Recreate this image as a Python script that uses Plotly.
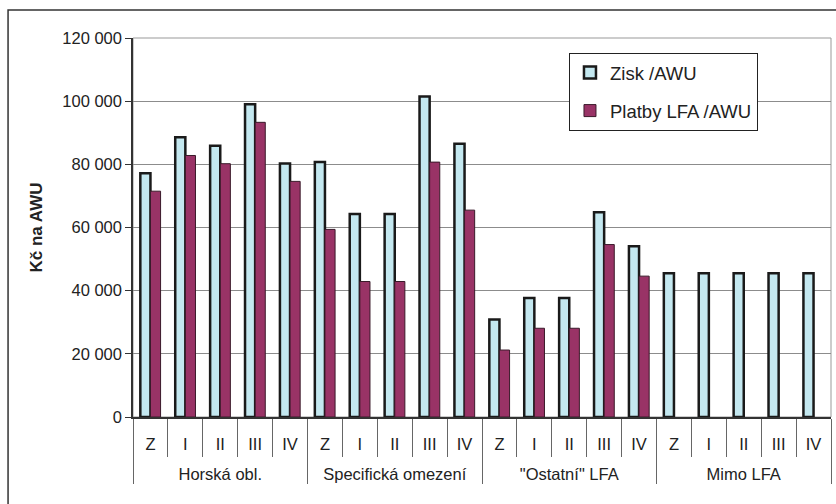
import plotly.graph_objects as go

groups = ["Horská obl.", "Specifická omezení", "\"Ostatní\" LFA", "Mimo LFA"]
subcats = ["Z", "I", "II", "III", "IV"]

zisk = [77200, 88600, 85900, 99000, 80300,
        80700, 64300, 64300, 101500, 86500,
        30900, 37700, 37700, 64800, 54100,
        45500, 45500, 45500, 45500, 45500]
platby = [71500, 82800, 80200, 93300, 74600,
          59400, 42900, 42900, 80700, 65500,
          21200, 28100, 28100, 54600, 44600,
          None, None, None, None, None]

x_outer = ["<br>" + g for g in groups for _ in subcats]
x_inner = [s for _ in groups for s in subcats]

fig = go.Figure()
fig.add_trace(go.Bar(
    x=[x_outer, x_inner], y=zisk, name="Zisk /AWU",
    marker=dict(color="#C4E8F0", line=dict(color="#1a1a1a", width=2.5)),
    legendgroup="a",
))
fig.add_trace(go.Bar(
    x=[x_outer, x_inner], y=platby, name="Platby LFA /AWU",
    marker=dict(color="#993366", line=dict(color="#3a1a2a", width=1)),
    legendgroup="b",
))

font_family = "Liberation Sans"

fig.update_layout(
    width=836, height=504,
    margin=dict(l=133, r=5, t=38, b=87, autoexpand=False),
    paper_bgcolor="white", plot_bgcolor="white",
    barmode="group", bargap=0.42, bargroupgap=0,
    separators=", ",
    font=dict(family=font_family, size=16.5, color="#222"),
    showlegend=True,
    legend=dict(
        x=0.6246, y=0.9604, xanchor="left", yanchor="top",
        bgcolor="white", bordercolor="#222", borderwidth=1,
        font=dict(size=18.5, color="#222"),
        traceorder="grouped", tracegroupgap=11,
        itemwidth=30, entrywidth=170, entrywidthmode="pixels",
    ),
    xaxis=dict(
        type="multicategory",
        showline=True, linecolor="#333", linewidth=1.5,
        ticks="outside", ticklen=38, tickcolor="#666", tickwidth=1,
        tickson="boundaries",
        ticklabelstandoff=11,
        showdividers=True, dividercolor="#666", dividerwidth=1,
        tickfont=dict(size=16.5, color="#222"),
        showgrid=False,
    ),
    yaxis=dict(
        range=[0, 120000], dtick=20000, tickformat=",d",
        showline=True, linecolor="#333", linewidth=1.5,
        ticks="outside", ticklen=6, tickcolor="#333",
        showgrid=True, gridcolor="#8c8c8c", gridwidth=1,
        zeroline=False,
        tickfont=dict(size=16.5, color="#222"),
        title=dict(text="<b>Kč na AWU</b>", font=dict(size=17, color="#222"), standoff=15),
    ),
    shapes=[
        dict(type="rect", xref="paper", yref="paper", x0=0, x1=1, y0=0, y1=1,
             line=dict(color="#999", width=1), layer="below"),
        dict(type="rect", xref="paper", yref="paper",
             x0=-0.179, x1=1.01, y0=-0.235, y1=1.0739,
             line=dict(color="#333", width=1.5), layer="below"),
    ],
)

fig.write_html("out.html", config={"displayModeBar": False},
               post_script="document.body.style.margin='0';document.body.style.overflow='hidden';")
